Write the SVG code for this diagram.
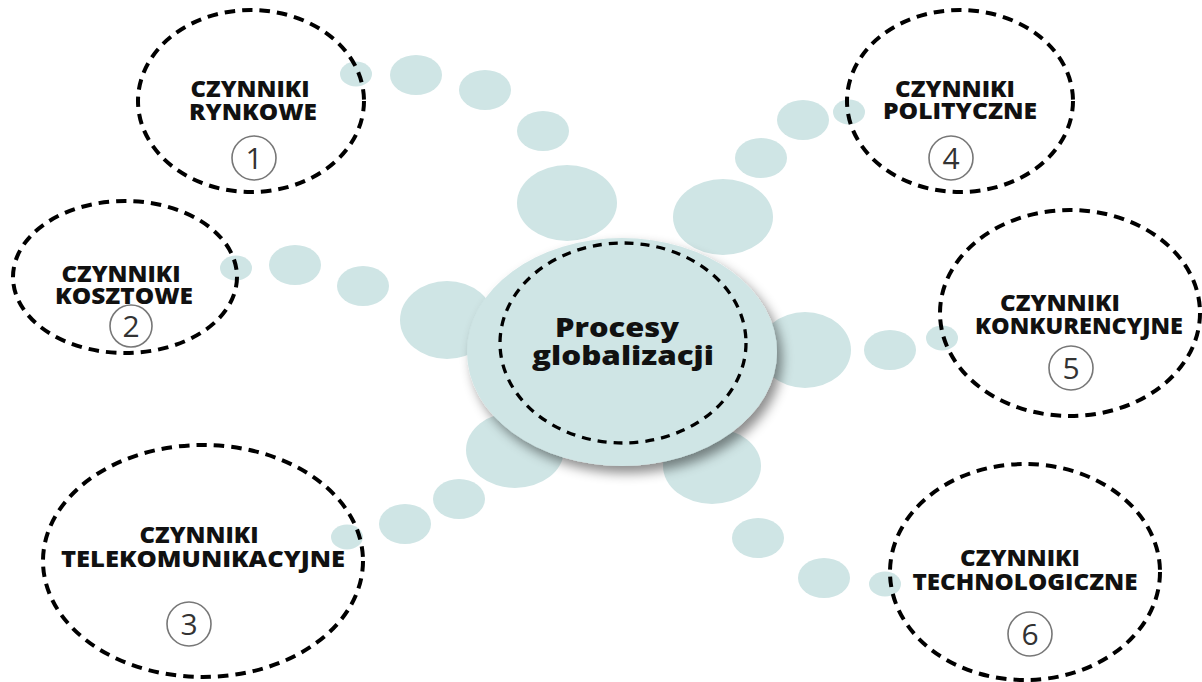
<svg xmlns="http://www.w3.org/2000/svg" width="1202" height="682" viewBox="0 0 1202 682">
<style>
.bub{fill:#cfe5e5}
.node{fill:none;stroke:#000;stroke-width:4;stroke-dasharray:10.5 7}
.lbl{font-family:"Open Sans","DejaVu Sans",sans-serif;font-weight:800;font-size:22px;fill:#111;text-anchor:middle}
.num{fill:#fff;stroke:#777;stroke-width:1.6}
.dig{font-family:"Open Sans","Liberation Sans",sans-serif;font-weight:400;font-size:30px;fill:#333;text-anchor:middle}
.ctr{font-family:"Open Sans","DejaVu Sans",sans-serif;font-weight:800;font-size:27px;fill:#111;text-anchor:middle}
</style>
<defs>
<filter id="sh" x="-20%" y="-20%" width="150%" height="150%">
<feDropShadow dx="5" dy="7" stdDeviation="6" flood-color="#000" flood-opacity="0.45"/>
</filter>
</defs>
<rect width="1202" height="682" fill="#fff"/>
<g id="connectors">
<ellipse class="bub" cx="356" cy="74" rx="16" ry="12.5"/>
<ellipse class="bub" cx="416" cy="75" rx="26" ry="20"/>
<ellipse class="bub" cx="485" cy="90" rx="26" ry="20"/>
<ellipse class="bub" cx="543" cy="131" rx="26" ry="20"/>
<ellipse class="bub" cx="567" cy="203" rx="50" ry="38"/>
<ellipse class="bub" cx="236" cy="268" rx="16" ry="12.5"/>
<ellipse class="bub" cx="295" cy="265" rx="26" ry="20"/>
<ellipse class="bub" cx="363" cy="286" rx="26" ry="20"/>
<ellipse class="bub" cx="447" cy="320" rx="47" ry="39"/>
<ellipse class="bub" cx="347" cy="537" rx="16" ry="12.5"/>
<ellipse class="bub" cx="405" cy="524" rx="26" ry="20"/>
<ellipse class="bub" cx="459" cy="499" rx="26" ry="20"/>
<ellipse class="bub" cx="515" cy="450" rx="49" ry="38"/>
<ellipse class="bub" cx="849" cy="112" rx="16" ry="12.5"/>
<ellipse class="bub" cx="803" cy="120" rx="26" ry="20"/>
<ellipse class="bub" cx="761" cy="158" rx="26" ry="20"/>
<ellipse class="bub" cx="723" cy="217" rx="50" ry="38"/>
<ellipse class="bub" cx="942" cy="338" rx="16" ry="12.5"/>
<ellipse class="bub" cx="890" cy="350" rx="26" ry="20"/>
<ellipse class="bub" cx="805" cy="350" rx="46" ry="38"/>
<ellipse class="bub" cx="885" cy="584" rx="16" ry="12.5"/>
<ellipse class="bub" cx="824" cy="578" rx="26" ry="20"/>
<ellipse class="bub" cx="758" cy="538" rx="26" ry="20"/>
<ellipse class="bub" cx="712" cy="466" rx="49" ry="38"/>
</g>
<g id="center">
<ellipse cx="622" cy="352" rx="155" ry="114" fill="#cfe5e5" filter="url(#sh)"/>
<ellipse cx="623" cy="343" rx="123" ry="100" fill="none" stroke="#000" stroke-width="3.3" stroke-dasharray="9 7"/>
<text class="ctr" x="617" y="337" textLength="124" lengthAdjust="spacingAndGlyphs">Procesy</text>
<text class="ctr" x="623" y="365" textLength="182" lengthAdjust="spacingAndGlyphs">globalizacji</text>
</g>
<g id="node1">
<ellipse class="node" cx="251" cy="101" rx="113" ry="91"/>
<text class="lbl" x="250" y="97" textLength="119" lengthAdjust="spacingAndGlyphs">CZYNNIKI</text>
<text class="lbl" x="253" y="120" textLength="128" lengthAdjust="spacingAndGlyphs">RYNKOWE</text>
<circle class="num" cx="254" cy="158" r="22"/>
<text class="dig" x="254" y="169">1</text>
</g>
<g id="node2">
<ellipse class="node" cx="125" cy="277" rx="112" ry="76"/>
<text class="lbl" x="121" y="282" textLength="119" lengthAdjust="spacingAndGlyphs">CZYNNIKI</text>
<text class="lbl" x="124" y="304" textLength="138" lengthAdjust="spacingAndGlyphs">KOSZTOWE</text>
<circle class="num" cx="131" cy="326" r="21"/>
<text class="dig" x="131" y="337">2</text>
</g>
<g id="node3">
<ellipse class="node" cx="203" cy="561" rx="160" ry="116"/>
<text class="lbl" x="199" y="543" textLength="119" lengthAdjust="spacingAndGlyphs">CZYNNIKI</text>
<text class="lbl" x="203" y="567" textLength="284" lengthAdjust="spacingAndGlyphs">TELEKOMUNIKACYJNE</text>
<circle class="num" cx="189" cy="624" r="22"/>
<text class="dig" x="189" y="635">3</text>
</g>
<g id="node4">
<ellipse class="node" cx="960" cy="101" rx="113" ry="91"/>
<text class="lbl" x="955" y="97" textLength="120" lengthAdjust="spacingAndGlyphs">CZYNNIKI</text>
<text class="lbl" x="960" y="119" textLength="154" lengthAdjust="spacingAndGlyphs">POLITYCZNE</text>
<circle class="num" cx="951" cy="158" r="22"/>
<text class="dig" x="951" y="169">4</text>
</g>
<g id="node5">
<ellipse class="node" cx="1070" cy="313" rx="130" ry="103"/>
<text class="lbl" x="1060" y="311" textLength="120" lengthAdjust="spacingAndGlyphs">CZYNNIKI</text>
<text class="lbl" x="1079" y="334" textLength="208" lengthAdjust="spacingAndGlyphs">KONKURENCYJNE</text>
<circle class="num" cx="1071" cy="368" r="22"/>
<text class="dig" x="1071" y="379">5</text>
</g>
<g id="node6">
<ellipse class="node" cx="1025" cy="572" rx="135" ry="108"/>
<text class="lbl" x="1020" y="566" textLength="120" lengthAdjust="spacingAndGlyphs">CZYNNIKI</text>
<text class="lbl" x="1025" y="590" textLength="225" lengthAdjust="spacingAndGlyphs">TECHNOLOGICZNE</text>
<circle class="num" cx="1030" cy="634" r="22"/>
<text class="dig" x="1030" y="645">6</text>
</g>
</svg>
